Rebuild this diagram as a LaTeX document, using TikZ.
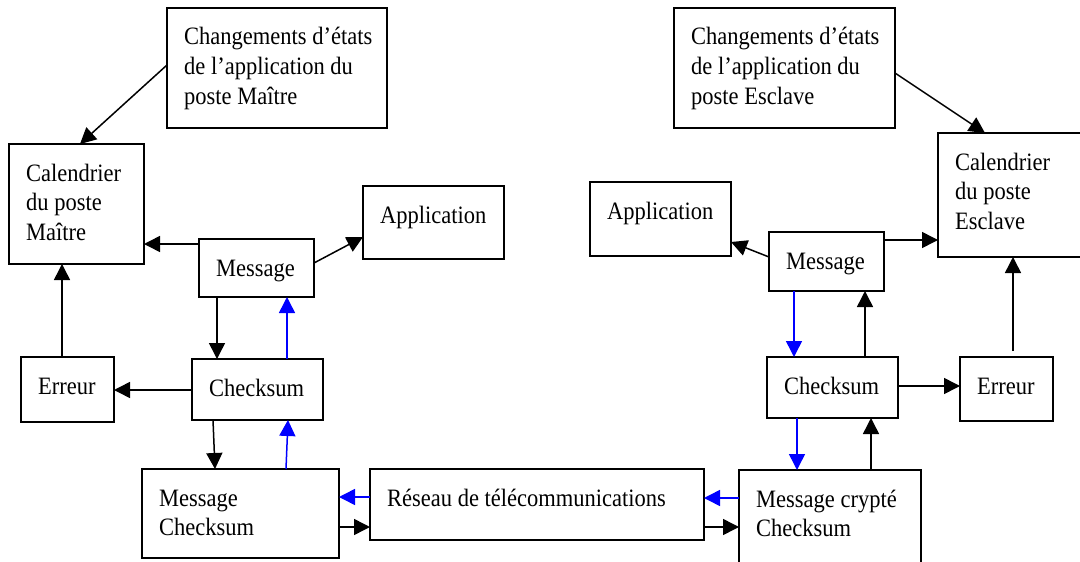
\documentclass[tikz,border=0pt]{standalone}
\usepackage{fontspec}
\setmainfont{Liberation Serif}[FakeStretch=0.9]
\usetikzlibrary{calc,arrows.meta}
\tikzset{
  box/.style={draw, line width=1.5pt, inner sep=0pt, outer sep=0pt, anchor=north west},
  lbl/.style={anchor=base west, inner sep=0pt, font=\fontsize{25}{29.5}\selectfont},
  arr/.style={line width=1.5pt, -{Triangle[length=16pt,width=16pt]}},
  barr/.style={arr, draw=blue, fill=blue},
}
\newcommand\mkbox[6]{%
  \node[box, minimum width={(#4-#2)*1pt}, minimum height={(#5-#3)*1pt}] (#1) at (#2,#3) {};
  \node[lbl] (#1t) at ($(#1.north west)+(17,37)$) {\begin{tabular}[t]{@{}l@{}}#6\end{tabular}};
}
\begin{document}
\begin{tikzpicture}[x=1pt,y=-1pt]
\useasboundingbox (0,0) rectangle (1080,562);
\clip (0,0) rectangle (1080,562);
% left side
\mkbox{cmM}{167}{8}{387}{128}{Changements d’états\\de l’application du\\poste Maître}
\mkbox{calM}{9}{144}{144}{264}{Calendrier\\du poste\\Maître}
\mkbox{appM}{363}{186}{504}{259}{Application}
\mkbox{msgM}{199}{239}{314}{297}{Message}
\mkbox{errM}{21}{357}{114}{422}{Erreur}
\mkbox{chkM}{192}{359}{323}{420}{Checksum}
\mkbox{mcM}{142}{469}{339}{558}{Message\\Checksum}
\mkbox{res}{370}{469}{704}{540}{Réseau de télécommunications}
% right side
\mkbox{mcE}{739}{470}{921}{580}{Message crypté\\Checksum}
\mkbox{cmE}{674}{8}{895}{128}{Changements d’états\\de l’application du\\poste Esclave}
\mkbox{calE}{938}{133}{1095}{257}{Calendrier\\du poste\\Esclave}
\mkbox{appE}{590}{182}{731}{256}{Application}
\mkbox{msgE}{769}{232}{884}{291}{Message}
\mkbox{chkE}{767}{357}{898}{418}{Checksum}
\mkbox{errE}{960}{357}{1053}{421}{Erreur}
% left arrows
\draw[arr] ($(cmM.north west)+(0,57)$) -- ($(calM.north west)+(71,0)$);
\draw[arr] ($(msgM.north west)+(0,5)$) -- ($(calM.north east)+(0,100)$);
\draw[arr] ($(msgM.north east)+(0,24)$) -- ($(appM.north west)+(0,51)$);
\draw[arr] ($(msgM.south west)+(18,0)$) -- ($(chkM.north west)+(25,0)$);
\draw[barr] ($(chkM.north west)+(95,0)$) -- ($(msgM.south west)+(88,0)$);
\draw[arr] ($(chkM.north west)+(0,31)$) -- ($(errM.north east)+(0,33)$);
\draw[arr] ($(errM.north west)+(41,0)$) -- ($(calM.south west)+(53,0)$);
\draw[arr] ($(chkM.south west)+(21,0)$) -- ($(mcM.north west)+(73,0)$);
\draw[barr] ($(mcM.north west)+(144,0)$) -- ($(chkM.south west)+(96,0)$);
\draw[barr] ($(res.north west)+(0,28)$) -- ($(mcM.north east)+(0,28)$);
\draw[arr] ($(mcM.north east)+(0,58)$) -- ($(res.north west)+(0,58)$);
% right arrows
\draw[arr] ($(cmE.north east)+(0,65)$) -- ($(calE.north west)+(47,0)$);
\draw[arr] ($(msgE.north west)+(0,25)$) -- ($(appE.north east)+(0,60)$);
\draw[arr] ($(msgE.north east)+(0,8)$) -- ($(calE.north west)+(0,107)$);
\draw[barr] ($(msgE.south west)+(25,0)$) -- ($(chkE.north west)+(27,0)$);
\draw[arr] ($(chkE.north west)+(98,0)$) -- ($(msgE.south west)+(96,0)$);
\draw[arr] ($(chkE.north east)+(0,29)$) -- ($(errE.north west)+(0,29)$);
\draw[arr] ($(errE.north west)+(53,-6)$) -- ($(calE.south west)+(75,0)$);
\draw[barr] ($(chkE.south west)+(30,0)$) -- ($(mcE.north west)+(58,0)$);
\draw[arr] ($(mcE.north west)+(132,0)$) -- ($(chkE.south west)+(104,0)$);
\draw[barr] ($(mcE.north west)+(0,28)$) -- ($(res.north east)+(0,29)$);
\draw[arr] ($(res.north east)+(0,58)$) -- ($(mcE.north west)+(0,57)$);
\end{tikzpicture}
\end{document}
